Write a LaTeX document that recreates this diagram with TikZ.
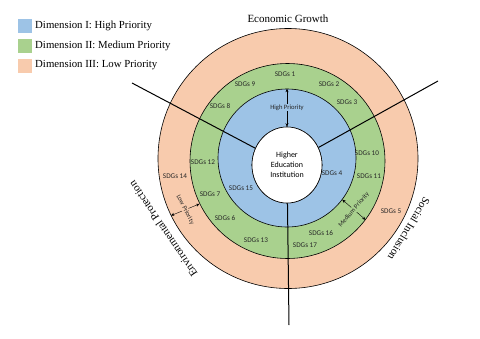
\documentclass[tikz,border=0pt]{standalone}
\usepackage{fontspec}
\setmainfont{Liberation Serif}
\newfontfamily\calfont{Carlito}
\usetikzlibrary{shapes.geometric,arrows.meta}
\definecolor{hblue}{HTML}{9DC3E6}
\definecolor{mgreen}{HTML}{A9D18E}
\definecolor{lpeach}{HTML}{F8CBAD}
\begin{document}
\begin{tikzpicture}[x=1pt,y=-1pt,
  ring/.style={circle,draw=black,line width=0.6pt,inner sep=0pt},
  sdg/.style={font=\calfont\fontsize{7.2}{8}\selectfont,text=black!85,inner sep=0.5pt},
  prio/.style={font=\calfont\fontsize{6.6}{7}\selectfont,text=black!85,inner sep=0.6pt},
  prioarrow/.style={{Stealth[length=3.5pt,width=3pt]}-{Stealth[length=3.5pt,width=3pt]},line width=0.4pt},
  spoke/.style={line width=1pt},
  legbox/.style={minimum size=14pt,inner sep=0pt},
  legtext/.style={font=\fontsize{10.8}{12}\selectfont,anchor=west,inner sep=0pt},
  outer/.style={font=\fontsize{11}{13}\selectfont,inner sep=0pt}]
\useasboundingbox[fill=white] (0,0) rectangle (480,338);

% legend
\node[legbox,fill=hblue]  (lb1) at (24.5,25.5) {};
\node[legbox,fill=mgreen] (lb2) at (24.5,45.5) {};
\node[legbox,fill=lpeach] (lb3) at (24.5,65.5) {};
\node[legtext] (lt1) at (35,25.5) {Dimension I: High Priority};
\node[legtext] (lt2) at (35,45.5) {Dimension II: Medium Priority};
\node[legtext] (lt3) at (35,65.5) {Dimension III: Low Priority};

% rings
\node[ring,fill=lpeach,minimum size=260pt] (peach) at (288,158.5) {};
\node[ring,fill=mgreen,minimum size=195pt] (green) at (287.5,161) {};
\node[ring,fill=hblue,minimum size=138pt] (blue) at (287,158) {};
\node[ellipse,draw=black,line width=0.6pt,fill=white,minimum width=70pt,minimum height=76pt,inner sep=0pt] (hei) at (287,165) {};

% spokes
\coordinate (sL) at (132,83);
\coordinate (sR) at (438,81);
\coordinate (sB) at (289,325);
\draw[spoke] (sL) -- (hei);
\draw[spoke] (sR) -- (hei);
\draw[spoke] (sB) -- (hei);
\node[ellipse,draw=black,line width=0.6pt,fill=white,minimum width=70pt,minimum height=76pt,inner sep=0pt,
  font=\calfont\fontsize{8}{10}\selectfont,align=center] (heitext) at (287,165) {Higher\\Education\\Institution};

% outer labels
\node[outer] (econ) at (288,19) {Economic Growth};
\node[outer,rotate=-121] (social) at (409,229) {Social Inclusion};
\node[outer,rotate=124] (env) at (163,229) {Environmental Protection};

% SDG labels
\node[sdg] (s1) at (285,74) {SDGs 1};
\node[sdg] (s9) at (245,84) {SDGs 9};
\node[sdg] (s2) at (329,84) {SDGs 2};
\node[sdg] (s8) at (220,106) {SDGs 8};
\node[sdg] (s3) at (347,102) {SDGs 3};
\node[sdg] (s10) at (367,153) {SDGs 10};
\node[sdg] (s11) at (369,176) {SDGs 11};
\node[sdg] (s4) at (332,173) {SDGs 4};
\node[sdg] (s12) at (203,162) {SDGs 12};
\node[sdg] (s14) at (175,176) {SDGs 14};
\node[sdg] (s15) at (241,188) {SDGs 15};
\node[sdg] (s7) at (210,194) {SDGs 7};
\node[sdg] (s6) at (225,218) {SDGs 6};
\node[sdg] (s13) at (256,240) {SDGs 13};
\node[sdg] (s16) at (321,233) {SDGs 16};
\node[sdg] (s17) at (305,245) {SDGs 17};
\node[sdg] (s5) at (391,211) {SDGs 5};

% priority arrows
\draw[prioarrow] (hei.north) -- (blue.north)
  node[prio,midway,fill=hblue] (hp) {High Priority};
\draw[prioarrow] (blue.-37) -- (green.-37)
  node[prio,midway,fill=mgreen,rotate=50] (mp) {Medium Priority};
\draw[prioarrow] (green.206) -- (peach.206)
  node[prio,midway,fill=lpeach,rotate=-63] (lp) {Low Priority};
\end{tikzpicture}
\end{document}
